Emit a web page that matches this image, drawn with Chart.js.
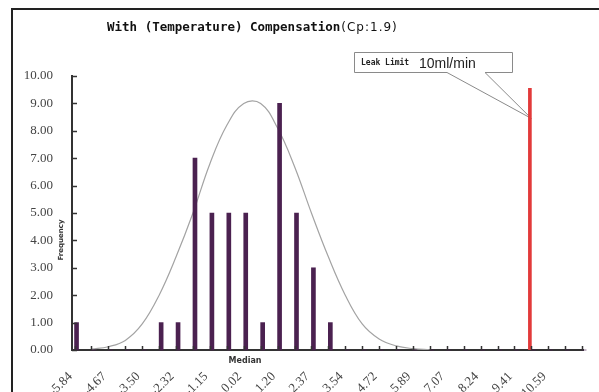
<!DOCTYPE html>
<html>
<head>
<meta charset="utf-8">
<script src="https://cdn.jsdelivr.net/npm/chart.js@4.4.1/dist/chart.umd.min.js"></script>
<style>
  body { margin: 0; background: #fff; }
  #wrap { width: 599px; height: 392px; }
</style>
</head>
<body>
<div id="wrap"><canvas id="myChart" width="599" height="392"></canvas></div>
<script>
/*
  frequency histogram with fitted curve and leak limit
*/

// one bin per tick on the x axis, labels on every second bin
const xTickLabels = ['-5.84', '-4.67', '-3.50', '-2.32', '-1.15', '0.02', '1.20', '2.37',
                     '3.54', '4.72', '5.89', '7.07', '8.24', '9.41', '10.59']
const frequency = [1, 0, 0, 0, 0, 1, 1, 7, 5, 5, 5, 1, 9, 5, 3, 1,
                   0, 0, 0, 0, 0, 0, 0, 0, 0, 0, 0, 0, 0, 0, 0]
// normal curve, one value per bin
const curve = [null, 0.03, 0.12, 0.35, 0.95, 2.0, 3.4, 5.0, 6.8, 8.2, 9.0, 9.0, 8.1, 6.7,
               5.0, 3.4, 2.0, 0.95, 0.4, 0.15, 0.05, 0.01]
const leakLimitBin = 27
const leakLimitValue = 9.55
const calloutAnchor = 8.45

const binIndex = frequency.map((f, i) => i)

// grab the canvas
let ctx = document.getElementById('myChart').getContext('2d');

const framePlugin = {
    id: 'frame',
    beforeDraw(chart) {
        const c = chart.ctx
        c.save()
        c.fillStyle = '#222'
        c.fillRect(11, 8, 2, 384)
        c.fillRect(11, 8, 588, 2)
        c.restore()
    }
}

const calloutPlugin = {
    id: 'callout',
    beforeDatasetsDraw(chart) {
        const c = chart.ctx
        const xs = chart.scales.x, ys = chart.scales.y
        const tipX = xs.getPixelForValue(leakLimitBin)
        const tipY = ys.getPixelForValue(calloutAnchor)
        c.save()
        c.beginPath()
        c.moveTo(354.5, 52.5)
        c.lineTo(512.5, 52.5)
        c.lineTo(512.5, 72.5)
        c.lineTo(485, 72.5)
        c.lineTo(tipX, tipY)
        c.lineTo(447, 72.5)
        c.lineTo(354.5, 72.5)
        c.closePath()
        c.fillStyle = '#fff'
        c.fill()
        c.strokeStyle = '#8a8a8a'
        c.lineWidth = 1
        c.stroke()
        c.fillStyle = '#222'
        c.textBaseline = 'alphabetic'
        c.font = 'bold 8px "DejaVu Sans Mono"'
        c.fillText('Leak Limit', 361, 65)
        c.font = '14px "Liberation Sans"'
        c.fillText('10ml/min', 419, 68)
        c.restore()
    }
}

const extrasPlugin = {
    id: 'extras',
    afterDraw(chart) {
        const c = chart.ctx
        const xs = chart.scales.x, ys = chart.scales.y
        const area = chart.chartArea
        c.save()
        // tick marks on the inside of both axes
        c.strokeStyle = '#333'
        c.lineWidth = 1.5
        for (let v = 0; v <= 10; v++) {
            const y = Math.round(ys.getPixelForValue(v)) + 0.5
            c.beginPath()
            c.moveTo(area.left, y)
            c.lineTo(area.left + 5, y)
            c.stroke()
        }
        binIndex.forEach(k => {
            const x = Math.round(xs.getPixelForValue(k)) + 0.5
            c.beginPath()
            c.moveTo(x, area.bottom)
            c.lineTo(x, area.bottom - 4)
            c.stroke()
        })
        // title
        c.fillStyle = '#111'
        c.textBaseline = 'alphabetic'
        c.font = 'bold 12.5px "DejaVu Sans Mono"'
        const t1 = 'With (Temperature) Compensation'
        c.fillText(t1, 107, 31)
        const w = c.measureText(t1).width
        c.font = '12px "DejaVu Sans"'
        c.letterSpacing = '1px'
        c.fillText('(Cp:1.9)', 107 + w + 1, 31)
        c.letterSpacing = '0px'
        // axis titles
        c.font = 'bold 8px "DejaVu Sans"'
        c.textAlign = 'center'
        c.textBaseline = 'middle'
        c.fillStyle = '#333'
        c.fillText('Median', 245, 361)
        c.translate(61, 240)
        c.rotate(-Math.PI / 2)
        c.font = 'bold 7px "DejaVu Sans"'
        c.fillText('Frequency', 0, 0)
        c.restore()
    }
}

let histChart = new Chart(ctx, {
    type: 'bar',
    data: {
        datasets: [{
            type: 'line',
            label: 'Normal',
            data: binIndex.filter(k => k < curve.length && curve[k] !== null).map(k => ({x: k, y: curve[k]})),
            borderColor: '#a3a3a3',
            borderWidth: 1.2,
            pointRadius: 0,
            fill: false,
            tension: 0.4,
            order: 2
        }, {
            label: 'Frequency',
            data: binIndex.map(k => ({x: k, y: frequency[k]})),
            backgroundColor: '#4b2150',
            barThickness: 4,
            clip: false,
            order: 1
        }, {
            label: 'Leak Limit',
            data: [{x: leakLimitBin, y: leakLimitValue}],
            backgroundColor: '#e23a3a',
            barThickness: 3,
            order: 0
        }]
    },
    options: {
        responsive: false,
        animation: false,
        layout: { padding: { top: 76, right: 16, left: 0, bottom: 0 } },
        plugins: {
            legend: { display: false },
            tooltip: { enabled: false }
        },
        scales: {
            x: {
                type: 'linear',
                offset: false,
                min: -0.15,
                max: 30.05,
                afterBuildTicks: s => { s.ticks = binIndex.map(k => ({ value: k })) },
                afterFit: s => { s.height = 42 },
                grid: { display: false, drawTicks: false, offset: false },
                border: { display: true, color: '#333', width: 2 },
                ticks: {
                    autoSkip: false,
                    minRotation: 45,
                    maxRotation: 45,
                    padding: 19,
                    labelOffset: -4,
                    color: '#444',
                    font: { family: '"Liberation Serif"', size: 13 },
                    callback: v => (v % 2 === 0 ? xTickLabels[v / 2] : '')
                }
            },
            y: {
                min: 0,
                max: 10,
                afterFit: s => { s.width = 72 },
                grid: { display: false, drawTicks: false },
                border: { display: true, color: '#333', width: 2 },
                ticks: {
                    stepSize: 1,
                    padding: 19,
                    color: '#444',
                    font: { family: '"Liberation Serif"', size: 13 },
                    callback: v => v.toFixed(2)
                }
            }
        }
    },
    plugins: [framePlugin, calloutPlugin, extrasPlugin]
});
</script>
</body>
</html>
